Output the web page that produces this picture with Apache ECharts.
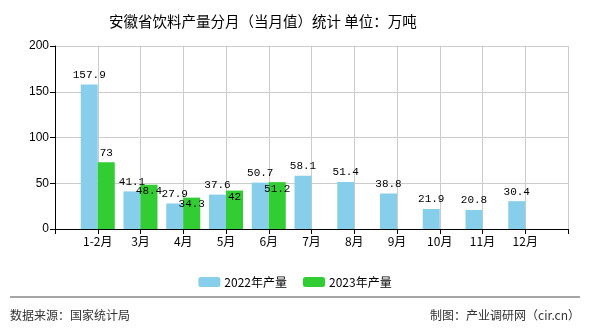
<!DOCTYPE html>
<html><head><meta charset="utf-8">
<script src="https://cdn.jsdelivr.net/npm/echarts@6/dist/echarts.min.js"></script>
<style>html,body{margin:0;padding:0;background:#fff}#c{width:590px;height:330px}</style>
</head><body><div id="c"></div>
<script>
const categories = ['1-2月','3月','4月','5月','6月','7月','8月','9月','10月','11月','12月'];
const values2022 = [157.9, 41.1, 27.9, 37.6, 50.7, 58.1, 51.4, 38.8, 21.9, 20.8, 30.4];
const values2023 = [73, 48.4, 34.3, 42, 51.2];
const yTicks = [0, 50, 100, 150, 200];
const seriesNames = ['2022年产量', '2023年产量'];
// label placement for 2023 labels (true = inside top of bar, to avoid overlap)
const green_inside = [false, true, true, true, true];

const cats = [''].concat(categories, ['']);
function pad(arr){ const out=[null]; for(let i=0;i<categories.length;i++){ out.push(i<arr.length?arr[i]:null);} out.push(null); return out; }
const d22 = pad(values2022);
const d23 = pad(values2023).map((v,i)=>{
  if(v==null) return null;
  const inside = green_inside[i-1];
  return inside ? {value:v, label:{position:'insideTop', distance:1}} : v;
});
const labelFont = {color:'#000', fontFamily:'Liberation Mono, DejaVu Sans Mono, monospace', fontSize:11};
const chart = echarts.init(document.getElementById('c'));
chart.setOption({
  animation:false,
  backgroundColor:'#fff',
  title:{text:'安徽省饮料产量分月（当月值）统计 单位：万吨', left:104, top:9,
    textStyle:{fontFamily:'Noto Sans CJK SC', fontSize:14.5, fontWeight:'normal', color:'#000'}},
  grid:{left:55, right:22, top:46, bottom:101},
  legend:{top:271, left:'center', itemWidth:22, itemHeight:10, itemGap:16,
    textStyle:{fontFamily:'Noto Sans CJK SC', fontSize:12, color:'#000', padding:[0,0,0,-1]},
    data:seriesNames},
  xAxis:{type:'category', data:cats, boundaryGap:false,
    axisLine:{lineStyle:{color:'#000', width:1}},
    axisTick:{show:true, length:5, lineStyle:{color:'#000'}},
    axisLabel:{color:'#000', fontFamily:'Noto Sans CJK SC', fontSize:12, margin:6, interval:0},
    splitLine:{show:true, lineStyle:{color:'#ccc'}}},
  yAxis:{type:'value', min:yTicks[0], max:yTicks[yTicks.length-1], interval:50,
    axisLine:{show:true, lineStyle:{color:'#000'}},
    axisTick:{show:true, length:5, lineStyle:{color:'#000'}},
    axisLabel:{color:'#000', fontFamily:'Liberation Sans, Arial', fontSize:12, margin:6},
    splitLine:{show:true, lineStyle:{color:'#ccc'}}},
  series:[
    {name:seriesNames[0], type:'bar', data:d22, barWidth:17, barGap:'0%',
      itemStyle:{color:'#87CEEB'},
      label:Object.assign({show:true, position:'top', distance:4}, labelFont)},
    {name:seriesNames[1], type:'bar', data:d23, barWidth:17, barGap:'0%',
      itemStyle:{color:'#32CD32'},
      label:Object.assign({show:true, position:'top', distance:4}, labelFont)}
  ],
  graphic:[
    {type:'line', shape:{x1:10, y1:297, x2:580, y2:297}, style:{stroke:'#888', lineWidth:1.5}},
    {type:'text', left:10, top:309, style:{text:'数据来源：国家统计局', fontFamily:'Noto Sans CJK SC', fontSize:12, fill:'#333'}},
    {type:'text', right:10, top:309, style:{text:'制图：产业调研网（cir.cn）', fontFamily:'Noto Sans CJK SC', fontSize:12, fill:'#333'}}
  ]
});
</script></body></html>
